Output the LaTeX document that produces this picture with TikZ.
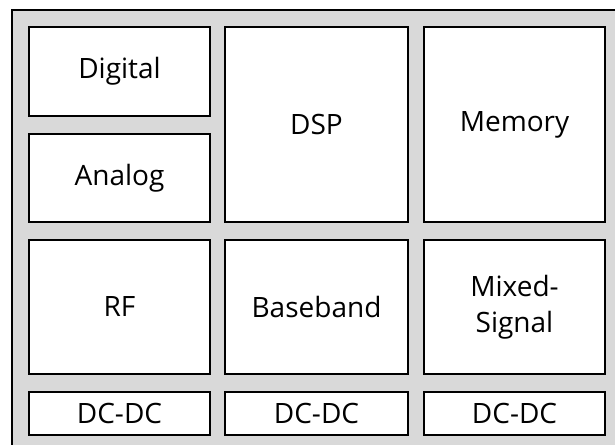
\documentclass[tikz,border=0pt]{standalone}
\usepackage{fontspec}
\setmainfont{Open Sans}
\definecolor{bggray}{RGB}{217,217,217}
\begin{document}
\begin{tikzpicture}[x=0.75pt,y=-0.75pt,
  blk/.style={draw=black,fill=white,line width=1.5pt,inner sep=0pt,
    font=\fontsize{21}{27}\selectfont},
  frame/.style={draw=black,fill=bggray,line width=2pt}]
\useasboundingbox (0,0) rectangle (615,445);
\clip (0,0) rectangle (615,445);
\draw[frame] (12,10) rectangle (640,470);
% blocks: defined by corners
\newcommand{\blkbox}[6]{%
  \node[blk,minimum width={(#4-#2)*0.75pt},minimum height={(#5-#3)*0.75pt},anchor=north west,align=center] (#1) at (#2,#3) {#6};}
\blkbox{dig}{28}{26}{209}{115}{Digital}
\blkbox{ana}{28}{133}{209}{221}{Analog}
\blkbox{dsp}{224}{26}{407}{221}{DSP}
\blkbox{mem}{423}{26}{604}{221}{Memory}
\blkbox{rf}{28}{239}{209}{373}{RF}
\blkbox{bb}{224}{239}{407}{373}{Baseband}
\blkbox{ms}{423}{239}{604}{373}{Mixed-\\Signal}
\blkbox{dca}{28}{391}{209}{434}{DC-DC}
\blkbox{dcb}{224}{391}{407}{434}{DC-DC}
\blkbox{dcc}{423}{391}{604}{434}{DC-DC}
\end{tikzpicture}
\end{document}
